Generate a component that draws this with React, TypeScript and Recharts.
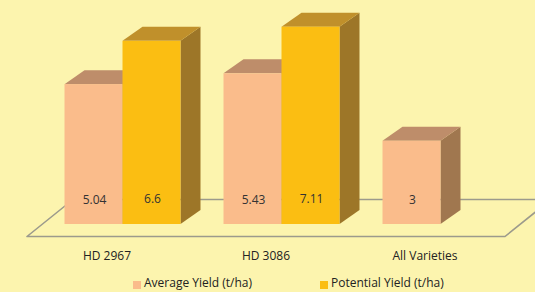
import React from 'react';
import * as R from 'recharts';

const { BarChart, Bar, XAxis, YAxis, LabelList } = R as any;

const categories = ['HD 2967', 'HD 3086', 'All Varieties'];
const averageYield = [5.04, 5.43, 3];
const potentialYield: (number | null)[] = [6.6, 7.11, null];
const seriesNames = ['Average Yield (t/ha)', 'Potential Yield (t/ha)'];

const data = categories.map((c, i) => ({ category: c, avg: averageYield[i], pot: potentialYield[i] }));

const W = 535;
const H = 292;
const MARGIN = { top: 2, right: 15.5, left: 42.5, bottom: 0 };
const XAXIS_H = 68;
const DX = 20;
const DY = -14;
const FONT = '"Open Sans", sans-serif';
const BG = '#FCF4AE';

const COLORS = {
  avg: { front: '#FABC8B', top: '#BE8D6A', side: '#A0774F' },
  pot: { front: '#FBBE12', top: '#C0902B', side: '#9D7628' },
};

function make3D(c: { front: string; top: string; side: string }) {
  return (p: any) => {
    const { x, y, width, height } = p;
    if (height == null || !(height > 0) || !width) return <g />;
    const topPts = `${x},${y} ${x + DX},${y + DY} ${x + width + DX},${y + DY} ${x + width},${y}`;
    const sidePts = `${x + width},${y} ${x + width + DX},${y + DY} ${x + width + DX},${y + height + DY} ${x + width},${y + height}`;
    return (
      <g>
        <polygon points={sidePts} fill={c.side} />
        <polygon points={topPts} fill={c.top} />
        <rect x={x} y={y} width={width} height={height} fill={c.front} />
      </g>
    );
  };
}

function valueLabel(lift: number) {
  return (p: any) => {
    const { x, y, width, height, value } = p;
    if (value == null) return null;
    return (
      <text
        x={x + width / 2 + 1}
        y={y + height - lift}
        textAnchor="middle"
        dominantBaseline="central"
        fontFamily={FONT}
        fontSize={12}
        fill="#333333"
      >
        {value}
      </text>
    );
  };
}

function CategoryTick(p: any) {
  const { x, y, payload } = p;
  return (
    <text
      x={x - 15}
      y={y + 31}
      textAnchor="middle"
      dominantBaseline="central"
      fontFamily={FONT}
      fontSize={12}
      fill="#222222"
    >
      {payload.value}
    </text>
  );
}

function Floor() {
  const hook = (R as any).usePlotArea || (R as any).useOffset;
  const pa = hook ? hook() : null;
  const left = pa && pa.x != null ? pa.x : pa && pa.left != null ? pa.left : MARGIN.left;
  const top = pa && pa.y != null ? pa.y : pa && pa.top != null ? pa.top : MARGIN.top;
  const width = pa && pa.width != null ? pa.width : W - MARGIN.left - MARGIN.right;
  const height = pa && pa.height != null ? pa.height : H - MARGIN.top - MARGIN.bottom - XAXIS_H;
  const base = top + height;
  const fy = base + 12.5;
  const fl = left - 15.5;
  const fr = left + width - 14.5;
  const ddx = 46;
  const ddy = -37;
  const pts = `${fl},${fy} ${fr},${fy} ${fr + ddx},${fy + ddy} ${fl + ddx},${fy + ddy}`;
  return <polygon points={pts} fill="none" stroke="#9C9A8C" strokeWidth={1.6} strokeLinejoin="round" />;
}

export default function App() {
  return (
    <div style={{ position: 'absolute', left: 0, top: 0, width: W, height: H, background: BG, overflow: 'hidden' }}>
      <BarChart width={W} height={H} data={data} margin={MARGIN} barGap={0} barSize={58}>
        <Floor />
        <XAxis
          dataKey="category"
          axisLine={false}
          tickLine={false}
          tickSize={0}
          tickMargin={0}
          height={XAXIS_H}
          interval={0}
          tick={<CategoryTick />}
        />
        <YAxis hide domain={[0, 8]} />
        <Bar dataKey="avg" name={seriesNames[0]} isAnimationActive={false} shape={make3D(COLORS.avg)}>
          <LabelList dataKey="avg" content={valueLabel(24.5)} />
        </Bar>
        <Bar dataKey="pot" name={seriesNames[1]} isAnimationActive={false} shape={make3D(COLORS.pot)}>
          <LabelList dataKey="pot" content={valueLabel(26)} />
        </Bar>
      </BarChart>
      <div
        style={{
          position: 'absolute',
          left: 133,
          top: 276,
          height: 14,
          lineHeight: '14px',
          display: 'flex',
          alignItems: 'center',
          fontFamily: FONT,
          fontSize: 12,
          color: '#222222',
          whiteSpace: 'nowrap',
        }}
      >
        <span style={{ display: 'inline-block', width: 8, height: 8, background: COLORS.avg.front, marginRight: 3, marginTop: 3 }} />
        <span style={{ marginRight: 68 }}>{seriesNames[0]}</span>
        <span style={{ display: 'inline-block', width: 8, height: 8, background: COLORS.pot.front, marginRight: 3, marginTop: 3 }} />
        <span>{seriesNames[1]}</span>
      </div>
    </div>
  );
}
